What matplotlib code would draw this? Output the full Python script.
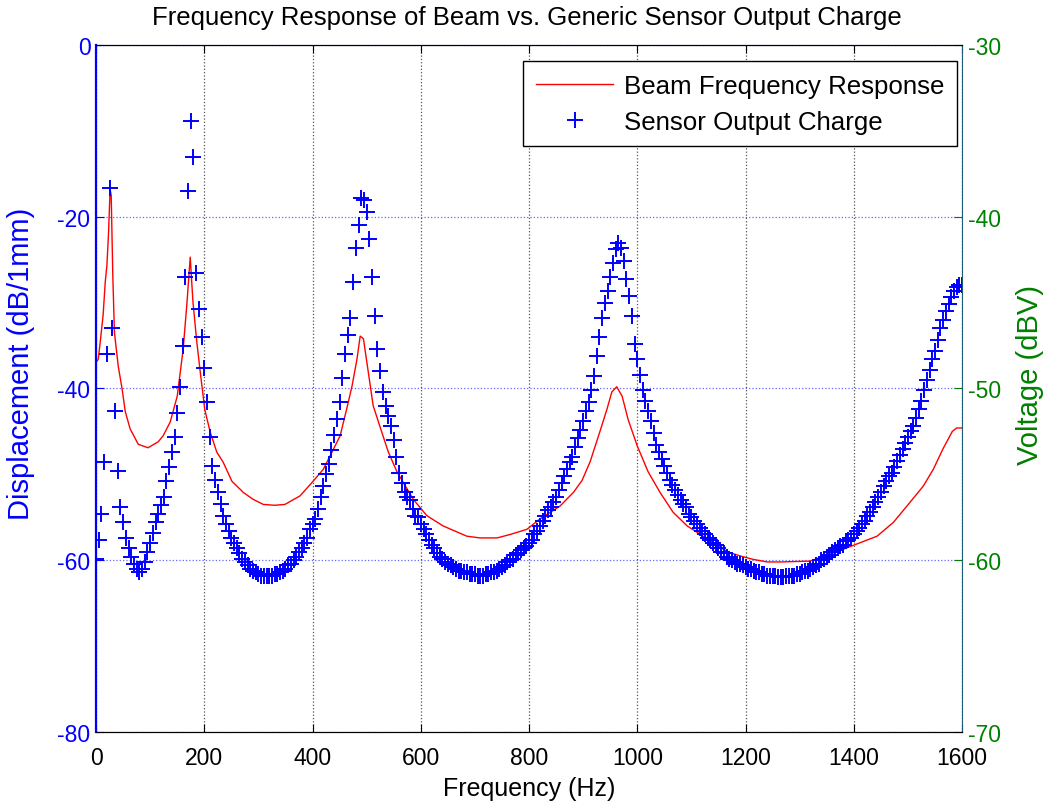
import numpy as np
import matplotlib
matplotlib.use('Agg')
import matplotlib.pyplot as plt

plt.rcParams['font.family'] = ['Liberation Sans', 'DejaVu Sans']
plt.rcParams['axes.unicode_minus'] = False

# beam displacement (left axis, dB/1mm)
beam_freq = [2, 4, 7, 13, 17, 20, 23, 26, 28, 31, 34, 41, 48, 54, 63, 78, 96,
             115, 124, 137, 150, 161, 168, 174, 179, 186, 192, 201, 211, 223,
             235, 251, 272, 290, 309, 330, 349, 377, 401, 420, 436, 451, 463,
             473, 482, 488, 494, 503, 512, 528, 540, 556, 586, 611, 641, 685,
             709, 741, 765, 796, 820, 857, 882, 898, 913, 931, 944, 953, 962,
             972, 983, 1000, 1020, 1042, 1066, 1092, 1129, 1166, 1190, 1214,
             1240, 1264, 1319, 1369, 1406, 1443, 1473, 1498, 1528, 1547, 1565,
             1582, 1590, 1600]
beam_disp = [-36.8, -36.6, -35.0, -31.5, -27.6, -25.7, -22.0, -16.8, -17.5,
             -27.0, -33.5, -37.4, -40.0, -42.7, -44.7, -46.5, -46.9,
             -46.2, -45.5, -43.9, -40.9, -35.4, -30.0, -24.7, -29.9, -34.5,
             -37.8, -42.5, -45.1, -47.4,
             -48.6, -50.8, -52.1, -52.9, -53.5, -53.6, -53.5, -52.5, -50.8,
             -49.4, -47.4, -45.5, -42.4,
             -39.7, -36.6, -33.9, -34.2, -38.1, -42.0, -45.1, -47.4, -49.7,
             -52.9, -54.8, -56.0, -57.2,
             -57.4, -57.4, -57.0, -56.4, -55.2, -53.7, -52.1, -50.7, -48.5,
             -45.0, -42.4, -40.4, -39.8,
             -40.9, -43.6, -46.7, -49.7, -52.1, -54.4, -56.0, -57.5, -59.0,
             -59.5, -59.9,
             -60.2, -60.2, -60.1, -59.0, -58.1, -57.2, -55.6, -53.7, -51.4,
             -49.4, -47.0,
             -45.0, -44.6, -44.6]

# sensor output (right axis, dBV), one value every 5 Hz from 0 to 1600
sensor_freq = np.arange(0, 1601, 5)
sensor_dbv = [
    -59.9, -58.8, -57.3, -54.3, -48.0, -38.3, -46.5, -51.3, -54.8, -56.9,
    -57.8, -58.7, -59.3, -59.8, -60.2, -60.5, -60.7, -60.5, -60.1, -59.5,
    -59.0, -58.4, -57.8, -57.3, -56.8, -56.3, -55.4, -54.6, -53.7, -52.8,
    -51.4, -49.9, -47.5, -43.5, -38.5, -34.4, -36.5, -43.3, -45.4, -47.0,
    -48.8, -50.8, -52.8, -54.5, -55.3, -56.0, -56.7, -57.4, -57.9, -58.3,
    -58.7, -59.0, -59.3, -59.6, -59.9, -60.1, -60.3, -60.5, -60.6, -60.7,
    -60.8, -60.9, -60.9, -60.9, -60.9, -60.9, -60.8, -60.8, -60.7, -60.6,
    -60.5, -60.3, -60.2, -60.0, -59.8, -59.5, -59.3, -59.0, -58.7, -58.2,
    -57.9, -57.6, -57.0, -56.3, -55.7, -55.0, -54.4, -53.6, -52.7, -51.8,
    -50.8, -49.4, -48.0, -46.9, -45.9, -43.8, -41.8, -40.5, -38.9, -39.0,
    -39.7, -41.3, -43.5, -45.8, -47.7, -49.0, -50.2, -51.0, -51.6, -52.2,
    -53.0, -54.0, -54.9, -55.5, -56.0, -56.3, -56.5, -57.0, -57.4, -57.5,
    -57.9, -58.2, -58.5, -58.8, -59.1, -59.3, -59.6, -59.8, -59.9, -60.1,
    -60.2, -60.3, -60.4, -60.5, -60.6, -60.6, -60.7, -60.7, -60.8, -60.8,
    -60.8, -60.9, -60.9, -60.9, -60.8, -60.8, -60.7, -60.7, -60.6, -60.5,
    -60.4, -60.3, -60.1, -60.0, -59.9, -59.7, -59.6, -59.4, -59.3, -59.2,
    -59.0, -58.8, -58.5, -58.3, -58.0, -57.7, -57.4, -57.1, -56.9, -56.6,
    -56.3, -55.9, -55.5, -55.1, -54.7, -54.3, -54.0, -53.4, -52.9, -52.4,
    -51.9, -51.3, -50.8, -50.1, -49.3, -48.1, -47.0, -45.9, -45.0, -44.3,
    -43.5, -42.7, -41.9, -41.5, -41.8, -42.6, -43.6, -44.6, -45.8, -47.4,
    -48.3, -49.2, -50.1, -50.7, -51.3, -51.9, -52.6, -53.3, -53.7, -54.1,
    -54.5, -54.9, -55.3, -55.6, -55.9, -56.2, -56.5, -56.7, -56.9, -57.3,
    -57.5, -57.7, -57.9, -58.1, -58.3, -58.5, -58.7, -58.8, -59.0, -59.1,
    -59.3, -59.5, -59.6, -59.8, -59.9, -60.0, -60.1, -60.2, -60.2, -60.3,
    -60.4, -60.5, -60.5, -60.6, -60.7, -60.7, -60.8, -60.8, -60.9, -60.9,
    -60.9, -60.9, -61.0, -61.0, -61.0, -60.9, -60.9, -60.9, -60.9, -60.8,
    -60.8, -60.7, -60.6, -60.6, -60.5, -60.4, -60.3, -60.2, -60.0, -59.9,
    -59.8, -59.7, -59.5, -59.4, -59.3, -59.2, -59.1, -58.9, -58.8, -58.7,
    -58.5, -58.3, -58.1, -57.9, -57.7, -57.4, -57.2, -56.9, -56.6, -56.3,
    -56.0, -55.7, -55.4, -55.1, -54.9, -54.6, -54.2, -53.9, -53.5, -53.2,
    -52.8, -52.5, -52.2, -51.7, -51.2, -50.7, -50.1, -49.5, -48.9, -48.3,
    -47.8, -47.2, -46.5, -46.0, -45.5, -45.1, -44.7, -44.3, -44.1, -44.0,
    -44.0,
]

x_ticks = [0, 200, 400, 600, 800, 1000, 1200, 1400, 1600]
left_ticks = [0, -20, -40, -60, -80]
right_ticks = [-30, -40, -50, -60, -70]

BLUE = '#0000ff'
GREEN = '#008000'
RED = '#ff0000'

fig = plt.figure(figsize=(10.44, 8.03), dpi=100)
ax = fig.add_axes([0.092, 0.0872, 0.8295, 0.8555])
ax2 = ax.twinx()

l1, = ax.plot(beam_freq, beam_disp, color=RED, lw=1.0,
              label='Beam Frequency Response')
l2, = ax2.plot(sensor_freq, sensor_dbv, linestyle='none', marker='+',
               ms=12, mew=1.4, color=BLUE, label='Sensor Output Charge')

ax.set_xlim(0, 1600)
ax.set_ylim(-80, 0)
ax2.set_ylim(-70, -30)
ax.set_xticks(x_ticks)
ax.set_yticks(left_ticks)
ax2.set_yticks(right_ticks)

ax.grid(True, axis='x', color='#555555', linestyle=':', lw=0.9)
ax.grid(True, axis='y', color=BLUE, linestyle=':', lw=0.9, alpha=0.6)

ax.tick_params(axis='x', direction='in', top=True, length=6, labelsize=16.5,
               colors='black', pad=10)
ax.tick_params(axis='y', direction='in', length=6, labelsize=16.5,
               colors=BLUE, pad=4)
ax2.tick_params(axis='y', direction='in', length=6, labelsize=16.5,
                colors=GREEN, pad=4)

ax.spines['left'].set_color(BLUE)
ax.spines['left'].set_linewidth(1.6)
ax2.spines['left'].set_visible(False)
ax2.spines['right'].set_color('#1f5a7a')
ax.spines['right'].set_visible(False)

ax.set_xlabel('Frequency (Hz)', fontsize=18, labelpad=5)
ax.set_ylabel('Displacement (dB/1mm)', fontsize=21, color=BLUE)
ax.yaxis.set_label_coords(-0.070, 0.537)
ax2.set_ylabel('Voltage (dBV)', fontsize=21, color=GREEN)
ax2.yaxis.set_label_coords(1.062, 0.521)
fig.text(0.5045, 1 - 18 / 803,
         'Frequency Response of Beam vs. Generic Sensor Output Charge',
         fontsize=18.5, ha='center', va='center')

leg = ax2.legend([l1, l2], [l1.get_label(), l2.get_label()],
                 loc='upper right', bbox_to_anchor=(0.9942, 0.9767),
                 borderaxespad=0, fontsize=18.6, fancybox=False,
                 edgecolor='black', framealpha=1, handlelength=3.0,
                 handletextpad=0.4, labelspacing=0.45, borderpad=0.5)
leg.get_frame().set_linewidth(1.0)

fig.savefig('out.png', dpi=100)
